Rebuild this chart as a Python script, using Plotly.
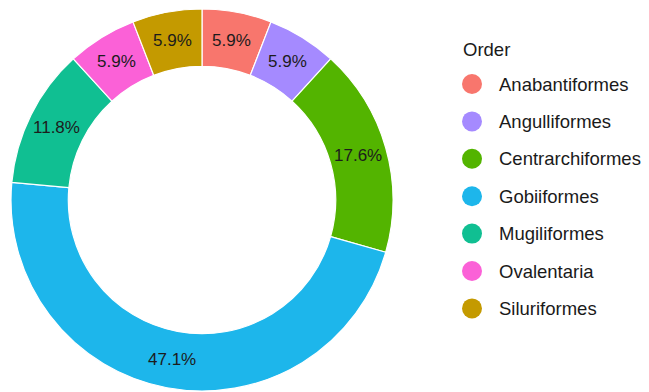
import math
import plotly.graph_objects as go

# Species counts per order
orders = ["Anabantiformes", "Angulliformes", "Centrarchiformes", "Gobiiformes",
          "Mugiliformes", "Ovalentaria", "Siluriformes"]
counts = [1, 1, 3, 8, 2, 1, 1]
colors = ["#F8766D", "#A58AFF", "#53B400", "#1DB6EB", "#10BF92", "#FB61D7", "#C49A00"]

W, H = 649, 392
cx, cy, r = 202, 200, 191
hole = 0.70

fig = go.Figure()
fig.add_trace(go.Pie(
    labels=orders,
    values=counts,
    sort=False,
    direction="clockwise",
    rotation=0,
    hole=hole,
    marker=dict(colors=colors, line=dict(color="white", width=1.2)),
    textinfo="none",
    hoverinfo="label+percent",
    showlegend=False,
    domain=dict(x=[(cx - r) / W, (cx + r) / W],
                y=[(H - cy - r) / H, (H - cy + r) / H]),
))

shapes, annotations = [], []

# Percentage labels at the middle of each ring segment
label_font = dict(family="Liberation Sans, Arial, sans-serif", size=17, color="#1c1c1c")
total = sum(counts)
mid_r = r * (1 + hole) / 2
cum = 0
for v in counts:
    theta = 2 * math.pi * (cum + v / 2) / total
    cum += v
    px = cx + mid_r * math.sin(theta)
    py = cy - mid_r * math.cos(theta)
    annotations.append(dict(x=px / W, y=1 - py / H, xref="paper", yref="paper",
                            text=f"{100 * v / total:.1f}%", showarrow=False,
                            xanchor="center", yanchor="middle", font=label_font))

# Legend drawn as circle keys with labels
font = dict(family="Liberation Sans, Arial, sans-serif", size=18.5, color="#1a1a1a")
annotations.append(dict(x=461 / W, y=1 - 50 / H, xref="paper", yref="paper",
                        text="Order", showarrow=False, xanchor="left", yanchor="middle",
                        font=font))
key_x, text_x, y0, step, rad = 472, 497, 84, 37.4, 10
for i, (name, col) in enumerate(zip(orders, colors)):
    yc = y0 + i * step
    shapes.append(dict(type="circle", xref="paper", yref="paper",
                       x0=(key_x - rad) / W, x1=(key_x + rad) / W,
                       y0=1 - (yc + rad) / H, y1=1 - (yc - rad) / H,
                       fillcolor=col, line=dict(width=0)))
    annotations.append(dict(x=text_x / W, y=1 - yc / H, xref="paper", yref="paper",
                            text=name, showarrow=False, xanchor="left", yanchor="middle",
                            font=font))

fig.update_layout(
    width=W, height=H,
    margin=dict(l=0, r=0, t=0, b=0),
    paper_bgcolor="white",
    plot_bgcolor="white",
    shapes=shapes,
    annotations=annotations,
)

fig.write_html("out.html")
